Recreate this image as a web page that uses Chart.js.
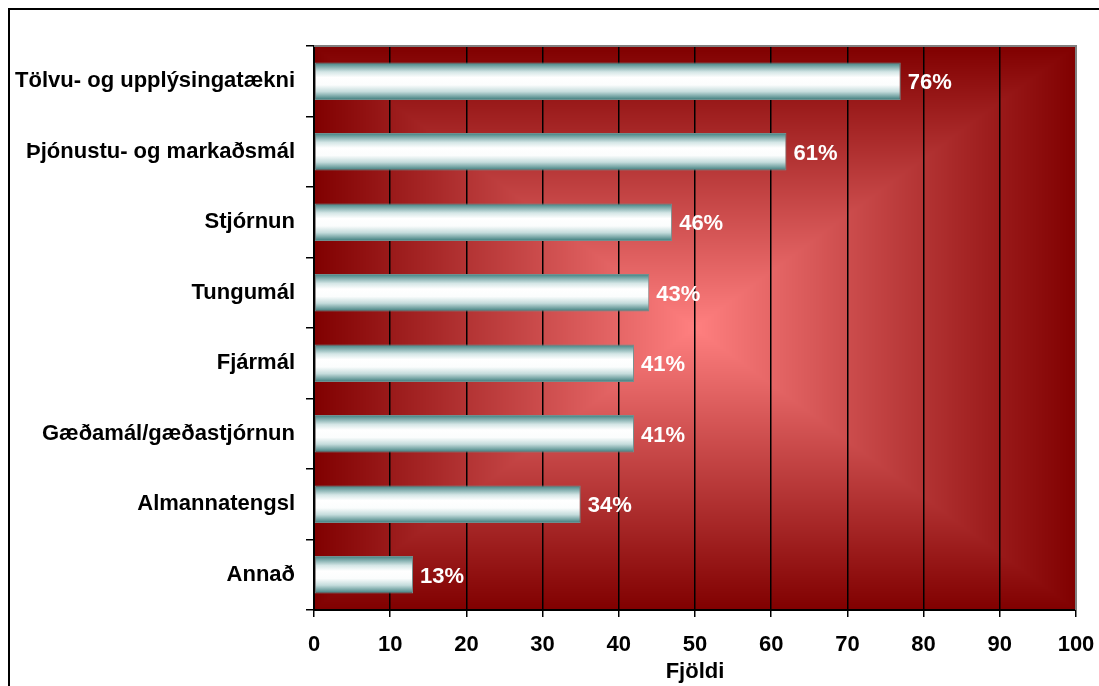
<!DOCTYPE html>
<html>
<head>
<meta charset="utf-8">
<script src="https://cdn.jsdelivr.net/npm/chart.js@4/dist/chart.umd.min.js"></script>
<style>
  html, body { margin: 0; padding: 0; overflow: hidden; background: #fff; }
  #wrap { position: relative; width: 1099px; height: 686px; }
  #frame { position: absolute; left: 8px; top: 8px; width: 1200px; height: 800px; border: 2px solid #000; }
  canvas { position: absolute; left: 0; top: 0; }
</style>
</head>
<body>
<div id="wrap">
  <div id="frame"></div>
  <canvas id="chart" width="1099" height="686"></canvas>
</div>
<script>
// ------------------------- data -------------------------
const categories = [
  'Tölvu- og upplýsingatækni',
  'Þjónustu- og markaðsmál',
  'Stjórnun',
  'Tungumál',
  'Fjármál',
  'Gæðamál/gæðastjórnun',
  'Almannatengsl',
  'Annað'
];
const counts = [77, 62, 47, 44, 42, 42, 35, 13];      // Fjöldi (bar length)
const percents = [76, 61, 46, 43, 41, 41, 34, 13];    // labels shown at bar ends
const xTicks = [0, 10, 20, 30, 40, 50, 60, 70, 80, 90, 100];

const FONT = "'Liberation Sans', Arial, sans-serif";
const FONT_SIZE = 22;
const BAR_PCT = 0.53;

// rectangular "from center" gradient behind the plot, built pixel by pixel
let bgCache = null;
function buildBackground(w, h) {
  const off = document.createElement('canvas');
  off.width = w; off.height = h;
  const octx = off.getContext('2d');
  const img = octx.createImageData(w, h);
  const inner = [255, 128, 128], outer = [128, 0, 0];
  const hw = w / 2, hh = h / 2;
  for (let y = 0; y < h; y++) {
    for (let x = 0; x < w; x++) {
      const t = Math.min(1, Math.max(Math.abs(x + 0.5 - hw) / hw, Math.abs(y + 0.5 - hh) / hh));
      const k = (y * w + x) * 4;
      img.data[k] = inner[0] + (outer[0] - inner[0]) * t;
      img.data[k + 1] = inner[1] + (outer[1] - inner[1]) * t;
      img.data[k + 2] = inner[2] + (outer[2] - inner[2]) * t;
      img.data[k + 3] = 255;
    }
  }
  octx.putImageData(img, 0, 0);
  return off;
}

const plotBackground = {
  id: 'plotBackground',
  beforeDraw(chart) {
    const { ctx, chartArea: a } = chart;
    const w = Math.round(a.right - a.left), h = Math.round(a.bottom - a.top);
    if (!bgCache || bgCache.width !== w || bgCache.height !== h) bgCache = buildBackground(w, h);
    ctx.drawImage(bgCache, a.left, a.top);
  },
  beforeDatasetsDraw(chart) {
    const { ctx, chartArea: a } = chart;
    ctx.save();
    ctx.strokeStyle = '#808080';
    ctx.lineWidth = 2;
    ctx.beginPath();
    ctx.moveTo(a.left, a.top);
    ctx.lineTo(a.right, a.top);
    ctx.lineTo(a.right, a.bottom);
    ctx.stroke();
    ctx.restore();
  }
};

// percentage labels at bar ends
const barLabels = {
  id: 'barLabels',
  afterDatasetsDraw(chart) {
    const { ctx } = chart;
    const meta = chart.getDatasetMeta(0);
    ctx.save();
    ctx.fillStyle = '#ffffff';
    ctx.font = 'bold ' + FONT_SIZE + 'px ' + FONT;
    ctx.textAlign = 'left';
    ctx.textBaseline = 'middle';
    meta.data.forEach((bar, i) => {
      ctx.fillText(percents[i] + '%', bar.x + 7, bar.y + 2);
    });
    ctx.restore();
  }
};

function barFill(c) {
  const chart = c.chart;
  const ys = chart.scales.y;
  if (c.type !== 'data' || !ys || !ys.height) return '#ffffff';
  const yc = ys.getPixelForValue(c.dataIndex);
  const h = ys.height / categories.length * BAR_PCT / 2;
  const g = chart.ctx.createLinearGradient(0, yc - h, 0, yc + h);
  g.addColorStop(0, '#3f7f7f');
  g.addColorStop(0.1, '#7aa8a8');
  g.addColorStop(0.25, '#d4e6e6');
  g.addColorStop(0.4, '#ffffff');
  g.addColorStop(0.6, '#fbfdfd');
  g.addColorStop(0.78, '#c4dcdc');
  g.addColorStop(0.9, '#7aa8a8');
  g.addColorStop(1, '#3a7a7a');
  return g;
}

const ctx = document.getElementById('chart').getContext('2d');

const chart = new Chart(ctx, {
  type: 'bar',
  data: {
    labels: categories,
    datasets: [{
      label: 'Fjöldi',
      data: counts,
      backgroundColor: barFill,
      borderColor: '#6f8f8f',
      borderWidth: 1,
      borderSkipped: false,
      categoryPercentage: 1,
      barPercentage: BAR_PCT
    }]
  },
  options: {
    indexAxis: 'y',
    responsive: false,
    animation: false,
    layout: { padding: { top: 46, right: 23, left: 0, bottom: 0 } },
    plugins: {
      legend: { display: false },
      tooltip: { enabled: false }
    },
    scales: {
      x: {
        min: 0,
        max: 100,
        afterBuildTicks: (scale) => { scale.ticks = xTicks.map(v => ({ value: v })); },
        afterFit: (scale) => {
          scale.height = 76;
          scale.paddingLeft = 0;
          scale.paddingRight = 0;
        },
        grid: {
          color: '#000000',
          lineWidth: 1.5,
          tickLength: 7
        },
        border: { color: '#000000', width: 2 },
        ticks: {
          color: '#000000',
          padding: 15,
          font: { family: FONT, size: FONT_SIZE, weight: 'bold' }
        },
        title: {
          display: true,
          text: 'Fjöldi',
          color: '#000000',
          padding: { top: 0, bottom: 1 },
          font: { family: FONT, size: FONT_SIZE, weight: 'bold' }
        }
      },
      y: {
        afterFit: (scale) => { scale.width = 314; },
        grid: {
          drawOnChartArea: false,
          color: '#000000',
          lineWidth: 1.5,
          tickLength: 8
        },
        border: { color: '#000000', width: 2 },
        ticks: {
          color: '#000000',
          padding: 11,
          font: { family: FONT, size: FONT_SIZE, weight: 'bold' }
        }
      }
    }
  },
  plugins: [plotBackground, barLabels]
});
</script>
</body>
</html>
